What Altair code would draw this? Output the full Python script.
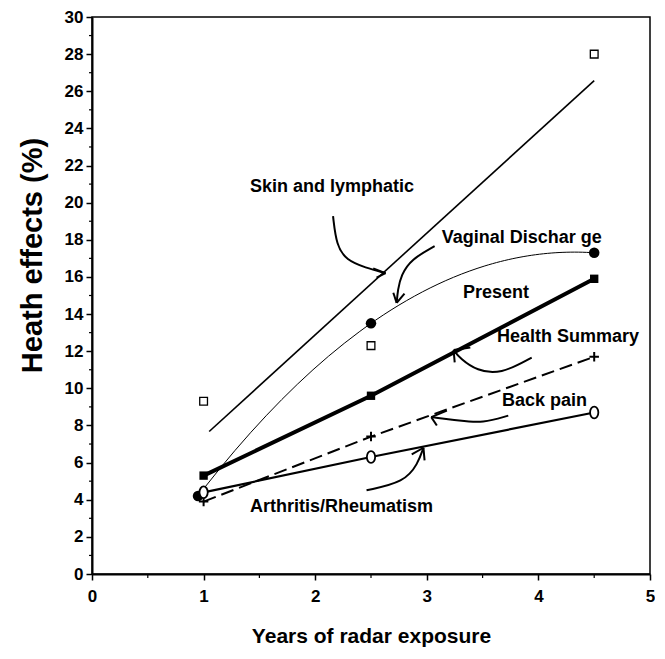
import altair as alt
import pandas as pd

# ---------------- data ----------------
years = [1.0, 2.5, 4.5]
skin_lymphatic = [9.3, 12.3, 28.0]
years_vaginal = [0.95, 2.5, 4.5]
vaginal_discharge = [4.2, 13.5, 17.3]
present_health = [5.3, 9.6, 15.9]
back_pain = [3.9, 7.4, 11.7]
arthritis = [4.4, 6.3, 8.7]

x_ticks = [0, 1, 2, 3, 4, 5]
y_ticks = list(range(0, 31, 2))
x_minor = [0.5, 1.5, 2.5, 3.5, 4.5]
y_minor = list(range(1, 30, 2))

label_text = ["Skin and lymphatic", "Vaginal Dischar ge", "Present",
              "Health Summary", "Back pain", "Arthritis/Rheumatism"]
label_x = [1.416, 3.133, 3.324, 3.629, 3.674, 1.416]
label_y = [20.83, 18.09, 15.11, 12.78, 9.34, 3.60]

# annotation arrows: curved shaft points, tip, and two barb ends
arrow_shaft_x = [[2.16, 2.19, 2.28, 2.45, 2.63],
                 [3.07, 2.86, 2.77, 2.74, 2.73],
                 [3.94, 3.66, 3.45, 3.30, 3.24],
                 [3.73, 3.50, 3.30, 3.04],
                 [2.46, 2.80, 2.92, 2.97]]
arrow_shaft_y = [[19.27, 17.7, 16.9, 16.5, 16.2],
                 [17.66, 16.95, 16.1, 15.3, 14.6],
                 [11.66, 10.75, 10.95, 11.6, 12.06],
                 [8.53, 8.12, 8.25, 8.45],
                 [4.51, 4.95, 5.94, 6.8]]
barb_x = [[2.52, 2.55], [2.70, 2.80], [3.39, 3.25], [3.18, 3.09], [2.865, 2.98]]
barb_y = [[16.46, 15.96], [15.15, 15.1], [12.2, 11.4], [8.8, 8.0], [6.44, 6.12]]

# ---------------- frames ----------------
skin_df = pd.DataFrame({"x": years, "y": skin_lymphatic})
vag_df = pd.DataFrame({"x": years_vaginal, "y": vaginal_discharge})
pres_df = pd.DataFrame({"x": years, "y": present_health})
back_df = pd.DataFrame({"x": years, "y": back_pain})
arth_df = pd.DataFrame({"x": years, "y": arthritis})
lab_df = pd.DataFrame({"x": label_x, "y": label_y, "t": label_text})

shaft_rows = []
for i, (xs, ys) in enumerate(zip(arrow_shaft_x, arrow_shaft_y)):
    for j, (a, b) in enumerate(zip(xs, ys)):
        shaft_rows.append({"id": i, "o": j, "x": a, "y": b})
shaft_df = pd.DataFrame(shaft_rows)

barb_rows = []
for i in range(len(barb_x)):
    tx, ty = arrow_shaft_x[i][-1], arrow_shaft_y[i][-1]
    for k in range(2):
        barb_rows.append({"id": f"{i}-{k}", "o": 0, "x": tx, "y": ty})
        barb_rows.append({"id": f"{i}-{k}", "o": 1, "x": barb_x[i][k], "y": barb_y[i][k]})
barb_df = pd.DataFrame(barb_rows)

xminor_df = pd.DataFrame({"x": x_minor})
yminor_df = pd.DataFrame({"y": y_minor})

FONT = "Liberation Sans, Arial, sans-serif"

xscale = alt.Scale(domain=[0, 5], nice=False, zero=False)
yscale = alt.Scale(domain=[0, 30], nice=False, zero=False)

xaxis = alt.Axis(values=x_ticks, format="d", grid=False, labelFlush=False,
                 title="Years of radar exposure",
                 labelFont=FONT, labelFontSize=17, labelFontWeight="bold",
                 labelColor="black", labelPadding=8,
                 tickSize=6, tickWidth=1.5, tickColor="black",
                 domainColor="black", domainWidth=2,
                 titleFont=FONT, titleFontSize=21, titleFontWeight="bold",
                 titleColor="black", titlePadding=21)
yaxis = alt.Axis(values=y_ticks, format="d", grid=False, labelFlush=False,
                 title="Heath effects (%)",
                 labelFont=FONT, labelFontSize=17, labelFontWeight="bold",
                 labelColor="black", labelPadding=3,
                 tickSize=6, tickWidth=1.5, tickColor="black",
                 domainColor="black", domainWidth=2,
                 titleFont=FONT, titleFontSize=29, titleFontWeight="bold",
                 titleColor="black", titleX=-60, titleY=238,
                 titleAngle=-90, titleAlign="center", titleBaseline="middle")

X = alt.X("x:Q", scale=xscale, axis=xaxis)
Y = alt.Y("y:Q", scale=yscale, axis=yaxis)

skin_line = alt.Chart(skin_df).transform_regression(
    "x", "y", extent=[1.05, 4.5]).mark_line(
    color="black", strokeWidth=1.6).encode(x=X, y=Y)
vag_line = alt.Chart(vag_df).transform_regression(
    "x", "y", method="poly", order=2, extent=[1.0, 4.5]).mark_line(
    color="black", strokeWidth=1.0).encode(x=X, y=Y)
pres_line = alt.Chart(pres_df).mark_line(color="black", strokeWidth=4).encode(x=X, y=Y)
back_line = alt.Chart(back_df).mark_line(color="black", strokeWidth=2,
                                         strokeDash=[13, 6]).encode(x=X, y=Y)
arth_line = alt.Chart(arth_df).mark_line(color="black", strokeWidth=2.2).encode(x=X, y=Y)

skin_pts = alt.Chart(skin_df).mark_point(shape="square", size=60, filled=True,
                                         fill="white", stroke="black",
                                         strokeWidth=1.3, opacity=1).encode(x=X, y=Y)
vag_pts = alt.Chart(vag_df).mark_point(shape="circle", size=110, filled=True,
                                       color="black", opacity=1).encode(x=X, y=Y)
pres_pts = alt.Chart(pres_df).mark_point(shape="square", size=70, filled=True,
                                         color="black", opacity=1).encode(x=X, y=Y)
back_pts = alt.Chart(back_df).mark_point(shape="M-1,0L1,0M0,-1L0,1", size=90,
                                         filled=False, stroke="black",
                                         strokeWidth=2, opacity=1).encode(x=X, y=Y)
arth_pts = alt.Chart(arth_df).mark_point(
    shape="M0,-1A0.7,1,0,1,1,0,1A0.7,1,0,1,1,0,-1Z", size=140, filled=True,
    fill="white", stroke="black", strokeWidth=1.8, opacity=1).encode(x=X, y=Y)

labels = alt.Chart(lab_df).mark_text(align="left", baseline="middle",
                                     font=FONT, fontSize=18, fontWeight="bold",
                                     color="black").encode(x=X, y=Y, text="t:N")

shafts = alt.Chart(shaft_df).mark_line(color="black", strokeWidth=2,
                                       interpolate="basis").encode(
    x=X, y=Y, detail="id:N", order="o:Q")
barbs = alt.Chart(barb_df).mark_line(color="black", strokeWidth=2).encode(
    x=X, y=Y, detail="id:N", order="o:Q")

xminor = alt.Chart(xminor_df).mark_rule(color="black", strokeWidth=1.2).encode(
    x=X, y=alt.value(557), y2=alt.value(561))
yminor = alt.Chart(yminor_df).mark_rule(color="black", strokeWidth=1.2).encode(
    y=Y, x=alt.value(-3), x2=alt.value(0))

chart = alt.layer(
    skin_line, vag_line, pres_line, back_line, arth_line,
    shafts, barbs,
    skin_pts, vag_pts, pres_pts, back_pts, arth_pts,
    labels, xminor, yminor
).properties(
    width=558, height=557,
    autosize=alt.AutoSizeParams(type="none"),
    padding={"left": 84, "top": 9, "right": 5, "bottom": 75},
    background="white"
).configure_view(stroke="black", strokeWidth=1.5)

chart.save("out.html", embed_options={"renderer": "svg", "actions": False})
